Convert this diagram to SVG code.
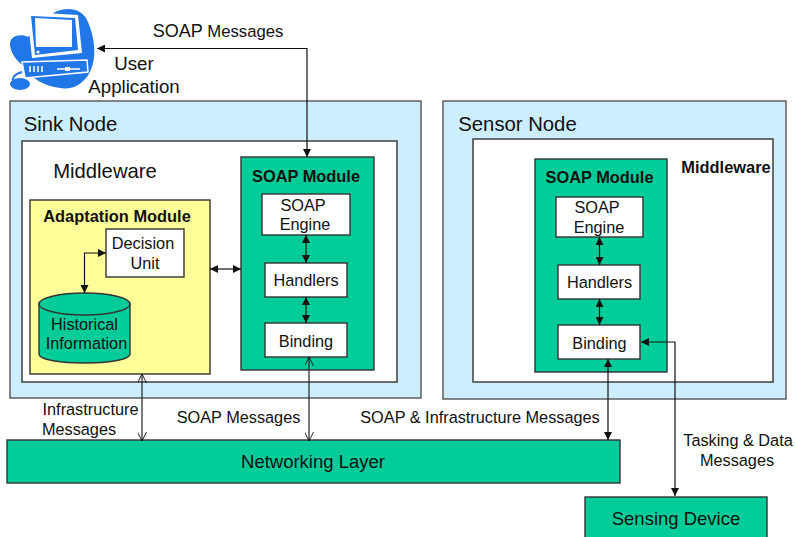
<svg xmlns="http://www.w3.org/2000/svg" width="795" height="537" viewBox="0 0 795 537">
<style>
text{font-family:"Liberation Sans",Arial,sans-serif;fill:#111;text-anchor:middle;font-size:16.3px}
.b{font-weight:bold;font-size:16.4px}
.t{font-size:20.3px}
.l{font-size:18.5px}
.blue{fill:#cceeff;stroke:#555;stroke-width:1.4}
.wh{fill:#fff;stroke:#333;stroke-width:1.4}
.gr{fill:#00cc99;stroke:#333;stroke-width:1.4}
.ye{fill:#ffff99;stroke:#333;stroke-width:1.4}
.c{fill:none;stroke:#111;stroke-width:1.2;marker-start:url(#a);marker-end:url(#a)}
.n{fill:none;stroke:#222;stroke-width:1.2;marker-start:url(#o);marker-end:url(#o)}
.ic{fill:#2277e8}
</style>
<defs><marker id="a" viewBox="0 0 10 10" refX="10" refY="5" markerWidth="8" markerHeight="8" markerUnits="userSpaceOnUse" orient="auto-start-reverse"><path d="M0 0L10 5L0 10z" fill="#111"/></marker>
<marker id="o" viewBox="0 0 10 10" refX="10" refY="5" markerWidth="9" markerHeight="9" markerUnits="userSpaceOnUse" orient="auto-start-reverse"><path d="M0 0L10 5L0 10" fill="none" stroke="#111" stroke-width="1"/></marker></defs>
<g id="user-application">
<path class="ic" d="M55 12C66 7 82 7 88 22C95 38 97 58 90 72C83 85 72 90 60 88C45 86 32 80 24 66C17 62 10 52 10 44C10 36 20 33 28 37L45 20Z"/>
<path d="M22 72C14 74 12 78 13 82" fill="none" stroke="#2277e8" stroke-width="2"/>
<ellipse class="ic" cx="20" cy="84" rx="10" ry="6"/>
<path d="M27 12L78 15L82 53L32 58Z" fill="#fff"/>
<path d="M31 16L75 18L78 50L35 55Z" fill="#2277e8"/>
<path d="M35 18L72 20L72 47L36 47Z" fill="#fff"/>
<circle cx="38" cy="52" r="1.500" fill="#fff"/>
<path d="M22 62L87 60L88 72L25 78Z" fill="#2277e8" stroke="#fff" stroke-width="1.500"/>
<path d="M30 66V72M34 66V72M38 66V72M42 66V72M57 69H80" stroke="#fff" stroke-width="1.500"/>
<rect x="65" y="67" width="5" height="4" fill="#fff"/>
<text x="134" y="70" style="font-size:18.700px">User</text>
<text x="134" y="93" style="font-size:18.700px">Application</text>
</g>
<text x="218" y="37" style="font-size:16.700px"><tspan style="font-size:18px">SOAP</tspan> Messages</text>
<g id="sink-node">
<rect class="blue" x="10" y="101" width="411" height="297"/>
<text class="t" x="70.500" y="131">Sink Node</text>
<rect class="wh" x="22" y="141" width="375" height="241"/>
<text class="t" x="105" y="178">Middleware</text>
</g>
<g id="adaptation-module">
<rect class="ye" x="30" y="200" width="180" height="174"/>
<text class="b" x="117" y="222">Adaptation Module</text>
</g>
<g id="decision-unit">
<rect class="wh" x="106" y="229" width="78" height="48"/>
<text x="143" y="249">Decision</text><text x="145" y="269">Unit</text>
</g>
<g id="historical-information">
<path class="gr" d="M39 304V354C39 366 130 366 130 354V304Z"/>
<ellipse class="gr" cx="84.500" cy="304" rx="45.500" ry="11"/>
<text x="84.500" y="330">Historical</text><text x="86.500" y="349">Information</text>
</g>
<g id="sink-soap-module">
<rect class="gr" x="241" y="157" width="133" height="213"/>
<text class="b" x="306" y="182">SOAP Module</text>
</g>
<g id="sink-soap-engine"><rect class="wh" x="262" y="194" width="88" height="41"/><text x="303" y="211">SOAP</text><text x="305" y="230">Engine</text></g>
<g id="sink-handlers"><rect class="wh" x="265" y="263" width="82" height="34"/><text x="306" y="286">Handlers</text></g>
<g id="sink-binding"><rect class="wh" x="265" y="323" width="82" height="34"/><text x="306" y="347">Binding</text></g>
<g id="sensor-node">
<rect class="blue" x="443" y="101" width="343" height="298"/>
<text class="t" x="517.500" y="131">Sensor Node</text>
<rect class="wh" x="473" y="139" width="300" height="243"/>
<text class="b" x="726" y="172.500">Middleware</text>
</g>
<g id="sensor-soap-module">
<rect class="gr" x="535" y="159" width="132" height="213"/>
<text class="b" x="599.500" y="183">SOAP Module</text>
</g>
<g id="sensor-soap-engine"><rect class="wh" x="556" y="197" width="87" height="40"/><text x="597" y="213">SOAP</text><text x="599" y="233">Engine</text></g>
<g id="sensor-handlers"><rect class="wh" x="558" y="265" width="82" height="34"/><text x="599.500" y="288">Handlers</text></g>
<g id="sensor-binding"><rect class="wh" x="558" y="325" width="82" height="34"/><text x="599.500" y="349">Binding</text></g>
<g id="networking-layer"><rect class="gr" x="7" y="440" width="613" height="43"/><text class="l" x="313" y="468">Networking Layer</text></g>
<g id="sensing-device"><rect class="gr" x="585" y="497" width="182" height="42"/><text class="l" x="676" y="525">Sensing Device</text></g>
<g id="connectors">
<path class="c" d="M97 48.500H307V157"/>
<path class="c" d="M306 235V263"/><path class="c" d="M306 297V323"/>
<path class="c" d="M599.500 237V265"/><path class="c" d="M599.500 299V325"/>
<path class="c" d="M210 269H241"/>
<path class="c" d="M106 253H84.500V293"/>
<path class="n" d="M309 357V441"/>
<path class="c" d="M608 359V440"/>
<path class="c" d="M641 342H675V496"/>
<path class="n" d="M142 374V441"/>
</g>
<text x="90.500" y="415">Infrastructure</text>
<text x="79" y="435">Messages</text>
<text x="238.500" y="423">SOAP Messages</text>
<text x="480" y="423">SOAP &amp; Infrastructure Messages</text>
<text x="738" y="446">Tasking &amp; Data</text>
<text x="737" y="466">Messages</text>
</svg>
